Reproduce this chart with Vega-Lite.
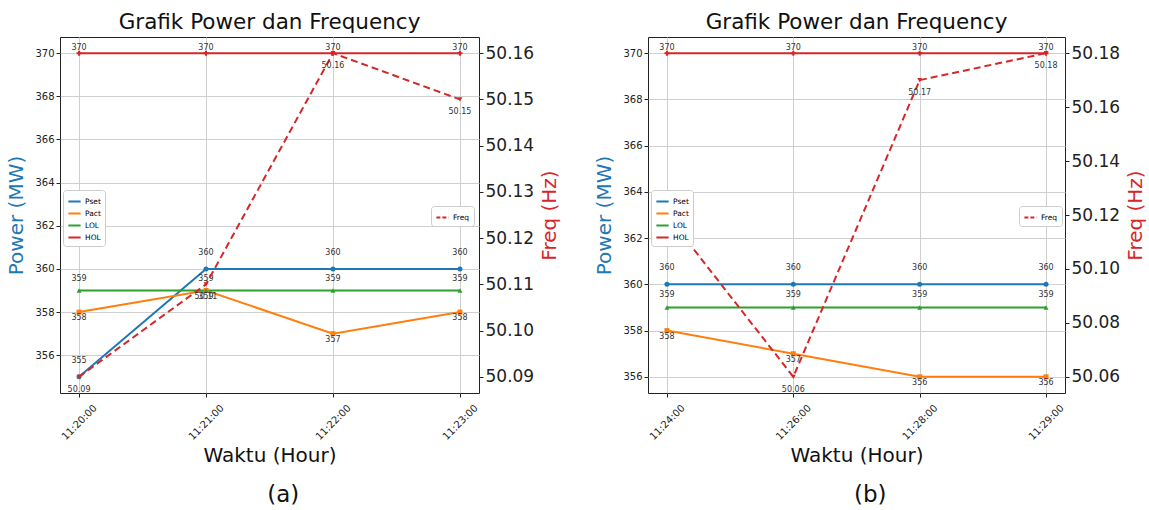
{
  "$schema": "https://vega.github.io/schema/vega-lite/v6.json",
  "padding": {"left": 6, "top": 11, "right": 5, "bottom": 2},
  "config": {
    "font": "DejaVu Sans",
    "view": {"stroke": "#222", "strokeWidth": 1},
    "axis": {"domain": false, "tickColor": "#222", "tickSize": 4, "labelColor": "#222", "titleColor": "#111", "titleFontWeight": "normal", "gridColor": "#cfcfcf", "gridWidth": 1, "labelFont": "DejaVu Sans", "titleFont": "DejaVu Sans"},
    "title": {"fontWeight": "normal", "color": "#111"},
    "legend": {"labelFont": "DejaVu Sans"}
  },
  "datasets": {
    "powerA": [
      {"time": "11:20:00", "series": "Pset", "power": 355},
      {"time": "11:21:00", "series": "Pset", "power": 360},
      {"time": "11:22:00", "series": "Pset", "power": 360},
      {"time": "11:23:00", "series": "Pset", "power": 360},
      {"time": "11:20:00", "series": "Pact", "power": 358},
      {"time": "11:21:00", "series": "Pact", "power": 359},
      {"time": "11:22:00", "series": "Pact", "power": 357},
      {"time": "11:23:00", "series": "Pact", "power": 358},
      {"time": "11:20:00", "series": "LOL", "power": 359},
      {"time": "11:21:00", "series": "LOL", "power": 359},
      {"time": "11:22:00", "series": "LOL", "power": 359},
      {"time": "11:23:00", "series": "LOL", "power": 359},
      {"time": "11:20:00", "series": "HOL", "power": 370},
      {"time": "11:21:00", "series": "HOL", "power": 370},
      {"time": "11:22:00", "series": "HOL", "power": 370},
      {"time": "11:23:00", "series": "HOL", "power": 370}
    ],
    "freqA": [
      {"time": "11:20:00", "freq": 50.09},
      {"time": "11:21:00", "freq": 50.11},
      {"time": "11:22:00", "freq": 50.16},
      {"time": "11:23:00", "freq": 50.15}
    ],
    "powerB": [
      {"time": "11:24:00", "series": "Pset", "power": 360},
      {"time": "11:26:00", "series": "Pset", "power": 360},
      {"time": "11:28:00", "series": "Pset", "power": 360},
      {"time": "11:29:00", "series": "Pset", "power": 360},
      {"time": "11:24:00", "series": "Pact", "power": 358},
      {"time": "11:26:00", "series": "Pact", "power": 357},
      {"time": "11:28:00", "series": "Pact", "power": 356},
      {"time": "11:29:00", "series": "Pact", "power": 356},
      {"time": "11:24:00", "series": "LOL", "power": 359},
      {"time": "11:26:00", "series": "LOL", "power": 359},
      {"time": "11:28:00", "series": "LOL", "power": 359},
      {"time": "11:29:00", "series": "LOL", "power": 359},
      {"time": "11:24:00", "series": "HOL", "power": 370},
      {"time": "11:26:00", "series": "HOL", "power": 370},
      {"time": "11:28:00", "series": "HOL", "power": 370},
      {"time": "11:29:00", "series": "HOL", "power": 370}
    ],
    "freqB": [
      {"time": "11:24:00", "freq": 50.12},
      {"time": "11:26:00", "freq": 50.06},
      {"time": "11:28:00", "freq": 50.17},
      {"time": "11:29:00", "freq": 50.18}
    ]
  },
  "spacing": 33,
  "hconcat": [
    {
      "title": {"text": "(a)", "orient": "bottom", "anchor": "middle", "fontSize": 23, "offset": 18},
      "vconcat": [
        {
          "title": {"text": "Grafik Power dan Frequency", "fontSize": 21.5, "offset": 4},
          "width": 419,
          "height": 356,
          "encoding": {
            "x": {"field": "time", "type": "ordinal", "scale": {"type": "point", "padding": 0.15},
              "axis": {"title": "Waktu (Hour)", "titleFontSize": 20, "labelAngle": -45, "labelAlign": "center", "labelBaseline": "middle", "labelFontSize": 10, "grid": true, "titlePadding": 4, "labelPadding": 25}}
          },
          "layer": [
            {
              "data": {"name": "powerA"},
              "encoding": {
                "y": {"field": "power", "type": "quantitative", "scale": {"domain": [354.25, 370.75], "nice": false, "zero": false},
                  "axis": {"orient": "left", "title": "Power (MW)", "titleColor": "#1f77b4", "titleFontSize": 20, "values": [356, 358, 360, 362, 364, 366, 368, 370], "labelFontSize": 10, "grid": true, "titlePadding": 8}},
                "color": {"field": "series", "type": "nominal", "scale": {"domain": ["Pset", "Pact", "LOL", "HOL"], "range": ["#1f77b4", "#ff7f0e", "#2ca02c", "#d62728"]},
                  "legend": {"title": null, "orient": "none", "legendX": 3, "legendY": 153, "symbolType": "stroke", "symbolStrokeWidth": 2, "symbolSize": 150, "labelFontSize": 7.5, "rowPadding": 0, "padding": 4, "strokeColor": "#ccc", "fillColor": "white", "cornerRadius": 3, "labelOffset": 3}}
              },
              "layer": [
                {"mark": {"type": "line", "strokeWidth": 2}},
                {"mark": {"type": "point", "filled": true, "size": 25, "opacity": 1},
                  "encoding": {"shape": {"field": "series", "type": "nominal", "scale": {"domain": ["Pset", "Pact", "LOL", "HOL"], "range": ["circle", "square", "triangle-up", "cross"]}, "legend": null}}},
                {"transform": [{"filter": "datum.series === 'Pset'"}], "mark": {"type": "text", "dy": -16, "fontSize": 8, "color": "#333"}, "encoding": {"text": {"field": "power", "type": "quantitative"}, "color": {"value": "#333"}}},
                {"transform": [{"filter": "datum.series === 'LOL'"}], "mark": {"type": "text", "dy": -12, "fontSize": 8, "color": "#333"}, "encoding": {"text": {"field": "power", "type": "quantitative"}, "color": {"value": "#333"}}},
                {"transform": [{"filter": "datum.series === 'HOL'"}], "mark": {"type": "text", "dy": -5, "fontSize": 8, "color": "#333"}, "encoding": {"text": {"field": "power", "type": "quantitative"}, "color": {"value": "#333"}}},
                {"transform": [{"filter": "datum.series === 'Pact'"}], "mark": {"type": "text", "dy": 6, "fontSize": 8, "color": "#333"}, "encoding": {"text": {"field": "power", "type": "quantitative"}, "color": {"value": "#333"}}}
              ]
            },
            {
              "data": {"name": "freqA"},
              "encoding": {
                "y": {"field": "freq", "type": "quantitative", "scale": {"domain": [50.0865, 50.1635], "nice": false, "zero": false},
                  "axis": {"orient": "right", "title": "Freq (Hz)", "titleColor": "#d62728", "titleFontSize": 20, "titleAngle": 270, "titleBaseline": "top", "values": [50.09, 50.10, 50.11, 50.12, 50.13, 50.14, 50.15, 50.16], "format": ".2f", "labelFontSize": 17, "grid": false, "titlePadding": 6}},
                "color": {"datum": "Freq", "type": "nominal", "scale": {"domain": ["Freq"], "range": ["#d62728"]},
                  "legend": {"title": null, "orient": "none", "legendX": 371, "legendY": 169, "symbolType": "stroke", "symbolDash": [4, 2], "symbolStrokeWidth": 2, "symbolSize": 150, "labelFontSize": 7.5, "padding": 4, "strokeColor": "#ccc", "fillColor": "white", "cornerRadius": 3, "labelOffset": 3}}
              },
              "layer": [
                {"mark": {"type": "line", "strokeWidth": 2, "strokeDash": [7, 4]}},
                {"mark": {"type": "point", "filled": true, "size": 25, "shape": "triangle-down", "opacity": 1}},
                {"mark": {"type": "text", "dy": 13, "fontSize": 8, "color": "#333"}, "encoding": {"text": {"field": "freq", "type": "quantitative", "format": ".2f"}, "color": {"value": "#333"}}}
              ]
            }
          ],
          "resolve": {"scale": {"y": "independent", "color": "independent"}, "legend": {"color": "independent"}}
        }
      ]
    },
    {
      "title": {"text": "(b)", "orient": "bottom", "anchor": "middle", "fontSize": 23, "offset": 18},
      "vconcat": [
        {
          "title": {"text": "Grafik Power dan Frequency", "fontSize": 21.5, "offset": 4},
          "width": 417,
          "height": 356,
          "encoding": {
            "x": {"field": "time", "type": "ordinal", "scale": {"type": "point", "padding": 0.15},
              "axis": {"title": "Waktu (Hour)", "titleFontSize": 20, "labelAngle": -45, "labelAlign": "center", "labelBaseline": "middle", "labelFontSize": 10, "grid": true, "titlePadding": 4, "labelPadding": 25}}
          },
          "layer": [
            {
              "data": {"name": "powerB"},
              "encoding": {
                "y": {"field": "power", "type": "quantitative", "scale": {"domain": [355.3, 370.7], "nice": false, "zero": false},
                  "axis": {"orient": "left", "title": "Power (MW)", "titleColor": "#1f77b4", "titleFontSize": 20, "values": [356, 358, 360, 362, 364, 366, 368, 370], "labelFontSize": 10, "grid": true, "titlePadding": 8}},
                "color": {"field": "series", "type": "nominal", "scale": {"domain": ["Pset", "Pact", "LOL", "HOL"], "range": ["#1f77b4", "#ff7f0e", "#2ca02c", "#d62728"]},
                  "legend": {"title": null, "orient": "none", "legendX": 3, "legendY": 153, "symbolType": "stroke", "symbolStrokeWidth": 2, "symbolSize": 150, "labelFontSize": 7.5, "rowPadding": 0, "padding": 4, "strokeColor": "#ccc", "fillColor": "white", "cornerRadius": 3, "labelOffset": 3}}
              },
              "layer": [
                {"mark": {"type": "line", "strokeWidth": 2}},
                {"mark": {"type": "point", "filled": true, "size": 25, "opacity": 1},
                  "encoding": {"shape": {"field": "series", "type": "nominal", "scale": {"domain": ["Pset", "Pact", "LOL", "HOL"], "range": ["circle", "square", "triangle-up", "cross"]}, "legend": null}}},
                {"transform": [{"filter": "datum.series === 'Pset'"}], "mark": {"type": "text", "dy": -16, "fontSize": 8, "color": "#333"}, "encoding": {"text": {"field": "power", "type": "quantitative"}, "color": {"value": "#333"}}},
                {"transform": [{"filter": "datum.series === 'LOL'"}], "mark": {"type": "text", "dy": -12, "fontSize": 8, "color": "#333"}, "encoding": {"text": {"field": "power", "type": "quantitative"}, "color": {"value": "#333"}}},
                {"transform": [{"filter": "datum.series === 'HOL'"}], "mark": {"type": "text", "dy": -5, "fontSize": 8, "color": "#333"}, "encoding": {"text": {"field": "power", "type": "quantitative"}, "color": {"value": "#333"}}},
                {"transform": [{"filter": "datum.series === 'Pact'"}], "mark": {"type": "text", "dy": 6, "fontSize": 8, "color": "#333"}, "encoding": {"text": {"field": "power", "type": "quantitative"}, "color": {"value": "#333"}}}
              ]
            },
            {
              "data": {"name": "freqB"},
              "encoding": {
                "y": {"field": "freq", "type": "quantitative", "scale": {"domain": [50.054, 50.186], "nice": false, "zero": false},
                  "axis": {"orient": "right", "title": "Freq (Hz)", "titleColor": "#d62728", "titleFontSize": 20, "titleAngle": 270, "titleBaseline": "top", "values": [50.06, 50.08, 50.10, 50.12, 50.14, 50.16, 50.18], "format": ".2f", "labelFontSize": 17, "grid": false, "titlePadding": 6}},
                "color": {"datum": "Freq", "type": "nominal", "scale": {"domain": ["Freq"], "range": ["#d62728"]},
                  "legend": {"title": null, "orient": "none", "legendX": 371, "legendY": 169, "symbolType": "stroke", "symbolDash": [4, 2], "symbolStrokeWidth": 2, "symbolSize": 150, "labelFontSize": 7.5, "padding": 4, "strokeColor": "#ccc", "fillColor": "white", "cornerRadius": 3, "labelOffset": 3}}
              },
              "layer": [
                {"mark": {"type": "line", "strokeWidth": 2, "strokeDash": [7, 4]}},
                {"mark": {"type": "point", "filled": true, "size": 25, "shape": "triangle-down", "opacity": 1}},
                {"mark": {"type": "text", "dy": 13, "fontSize": 8, "color": "#333"}, "encoding": {"text": {"field": "freq", "type": "quantitative", "format": ".2f"}, "color": {"value": "#333"}}}
              ]
            }
          ],
          "resolve": {"scale": {"y": "independent", "color": "independent"}, "legend": {"color": "independent"}}
        }
      ]
    }
  ]
}
